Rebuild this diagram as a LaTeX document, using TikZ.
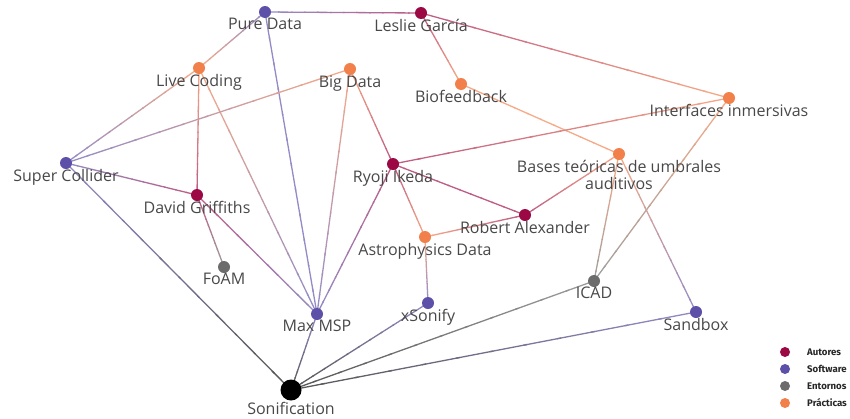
\documentclass[tikz,border=0pt]{standalone}
\usepackage{fontspec}
\setmainfont{Open Sans}
\newfontfamily\legfont{Fira Sans}
\usetikzlibrary{calc}
\definecolor{aut}{RGB}{155,8,68}
\definecolor{sw}{RGB}{92,80,168}
\definecolor{env}{RGB}{108,108,108}
\definecolor{pra}{RGB}{242,128,74}
\definecolor{son}{RGB}{0,0,0}
\definecolor{labelgray}{RGB}{72,72,72}
\pgfdeclarelayer{bg}\pgfsetlayers{bg,main}
\tikzset{
  dot/.style={circle,inner sep=0pt,minimum size=12pt,fill=#1},
  lbl/.style={font=\fontsize{16}{17}\selectfont,text=labelgray,inner sep=0pt,align=center},
  legdot/.style={circle,inner sep=0pt,minimum size=10pt,fill=#1},
  legtxt/.style={font=\legfont\bfseries\fontsize{9.6}{10}\selectfont,text=black!85,anchor=west,inner sep=0pt},
  edgeline/.style={line width=1.3pt}
}
\newcommand\gedge[4]{%
 \begin{pgfonlayer}{bg}
 \foreach \i in {0,...,11}{
   \pgfmathtruncatemacro\p{100-(\i+0.5)*100/12}
   \pgfmathsetmacro\sa{\i/12}
   \pgfmathsetmacro\sb{min((\i+1)/12+0.01,1)}
   \draw[edgeline,color=#3!\p!#4!66!white] ($(#1)!\sa!(#2)$) -- ($(#1)!\sb!(#2)$);
 }
 \end{pgfonlayer}}
\begin{document}
\begin{tikzpicture}[x=1pt,y=-1pt,label distance=0pt]
\useasboundingbox (0,0) rectangle (850,418);
% nodes
\node[dot=sw,label={[lbl]below:Pure Data}] (pd) at (265,12) {};
\node[dot=aut,label={[lbl]below:Leslie García}] (lg) at (421,13) {};
\node[dot=pra,label={[lbl]below:Live Coding}] (lc) at (199,68) {};
\node[dot=pra,label={[lbl]below:Big Data}] (bd) at (350,69) {};
\node[dot=pra,label={[lbl]below:Biofeedback}] (bf) at (461,84) {};
\node[dot=pra,label={[lbl]below:Interfaces inmersivas}] (ii) at (729,98) {};
\node[dot=sw,label={[lbl]below:Super Collider}] (sc) at (66,163) {};
\node[dot=aut,label={[lbl]below:Ryoji Ikeda}] (ri) at (393,164) {};
\node[dot=pra,label={[lbl]below:Bases teóricas de umbrales\\auditivos}] (bt) at (619,154) {};
\node[dot=aut,label={[lbl]below:David Griffiths}] (dg) at (197,195) {};
\node[dot=aut,label={[lbl]below:Robert Alexander}] (ra) at (525,215) {};
\node[dot=pra,label={[lbl]below:Astrophysics Data}] (ad) at (425,237) {};
\node[dot=env,label={[lbl]below:FoAM}] (fo) at (224,267) {};
\node[dot=env,label={[lbl]below:ICAD}] (ic) at (594,281) {};
\node[dot=sw,label={[lbl]below:xSonify}] (xs) at (428,303) {};
\node[dot=sw,label={[lbl]below:Max MSP}] (mm) at (317,314) {};
\node[dot=sw,label={[lbl]below:Sandbox}] (sb) at (696,312) {};
\node[dot=son,minimum size=21pt,label={[lbl,label distance=1pt]below:Sonification}] (so) at (291,390) {};
% edges
\gedge{pd}{lg}{sw}{aut}
\gedge{pd}{lc}{sw}{pra}
\gedge{pd}{mm}{sw}{sw}
\gedge{lg}{bf}{aut}{pra}
\gedge{lg}{ii}{aut}{pra}
\gedge{lc}{sc}{pra}{sw}
\gedge{lc}{dg}{pra}{aut}
\gedge{lc}{mm}{pra}{sw}
\gedge{bd}{sc}{pra}{sw}
\gedge{bd}{ri}{pra}{aut}
\gedge{bd}{mm}{pra}{sw}
\gedge{bf}{bt}{pra}{pra}
\gedge{ii}{ri}{pra}{aut}
\gedge{ii}{ic}{pra}{env}
\gedge{sc}{dg}{sw}{aut}
\gedge{sc}{so}{sw}{son}
\gedge{dg}{fo}{aut}{env}
\gedge{dg}{mm}{aut}{sw}
\gedge{ri}{mm}{aut}{sw}
\gedge{ri}{ra}{aut}{aut}
\gedge{ri}{ad}{aut}{pra}
\gedge{ra}{ad}{aut}{pra}
\gedge{ra}{bt}{aut}{pra}
\gedge{ad}{xs}{pra}{sw}
\gedge{bt}{ic}{pra}{env}
\gedge{bt}{sb}{pra}{sw}
\gedge{mm}{so}{sw}{son}
\gedge{xs}{so}{sw}{son}
\gedge{ic}{so}{env}{son}
\gedge{sb}{so}{sw}{son}
% legend
\node[legdot=aut] (l1) at (785,352) {};
\node[legdot=sw] (l2) at (785,369) {};
\node[legdot=env] (l3) at (785,386) {};
\node[legdot=pra] (l4) at (785,403) {};
\node[legtxt] (t1) at (807,352) {Autores};
\node[legtxt] (t2) at (807,369) {Software};
\node[legtxt] (t3) at (807,386) {Entornos};
\node[legtxt] (t4) at (807,403) {Prácticas};
\end{tikzpicture}
\end{document}
